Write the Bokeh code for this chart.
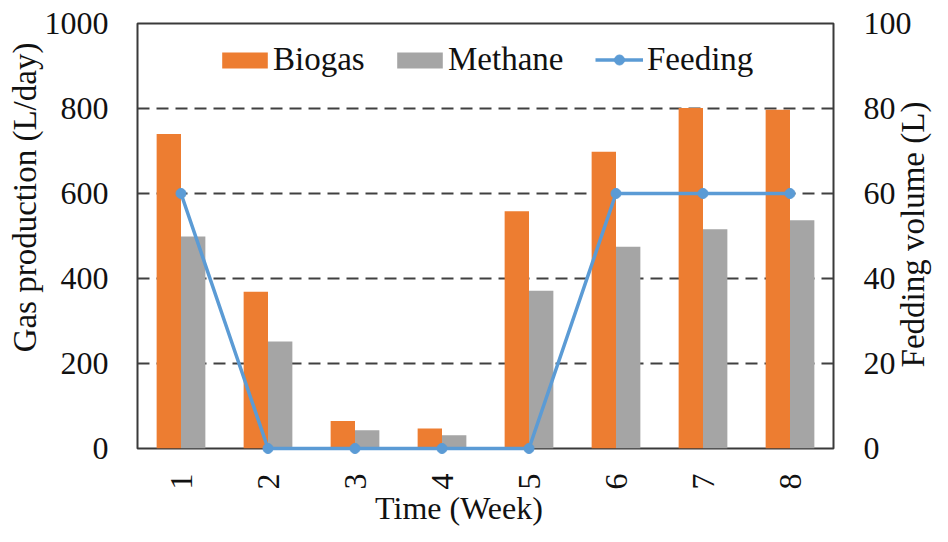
import math
from bokeh.plotting import figure
from bokeh.models import (FactorRange, Range1d, LinearAxis, FixedTicker, Legend,
                          LegendItem, ColumnDataSource)
from bokeh.core.properties import value
from bokeh.transform import dodge
from bokeh.embed import file_html
from bokeh.resources import INLINE

# ---- data ----
weeks = ["1", "2", "3", "4", "5", "6", "7", "8"]
biogas = [740, 369, 65, 47, 558, 698, 801, 797]
methane = [499, 252, 43, 31, 371, 475, 516, 537]
feeding = [60, 0, 0, 0, 0, 60, 60, 60]
left_ticks = [0, 200, 400, 600, 800, 1000]
right_ticks = [0, 20, 40, 60, 80, 100]
grid_values = [200, 400, 600, 800]
left_title = "Gas production (L/day)"
right_title = "Fedding volume (L)"
x_title = "Time (Week)"

FONT = "Liberation Serif"
TXT = "#111111"
C_BIO = "#ED7D31"
C_MET = "#A5A5A5"
C_FEED = "#5B9BD5"

src = ColumnDataSource(dict(week=weeks, biogas=biogas, methane=methane, feeding=feeding))

p = figure(width=932, height=526, x_range=FactorRange(factors=weeks), y_range=Range1d(0, 1000),
           output_backend="svg", toolbar_location=None,
           min_border_left=137, min_border_right=99, min_border_top=23, min_border_bottom=78)
p.background_fill_color = "white"
p.border_fill_color = "white"
p.outline_line_color = "#3a3a3a"
p.outline_line_width = 2

p.extra_y_ranges = {"feed": Range1d(0, 100)}
raxis = LinearAxis(y_range_name="feed")
p.add_layout(raxis, "right")

b1 = p.vbar(x=dodge("week", -0.14, range=p.x_range), top="biogas", width=0.28, source=src,
            fill_color=C_BIO, line_color=None)
b2 = p.vbar(x=dodge("week", 0.14, range=p.x_range), top="methane", width=0.28, source=src,
            fill_color=C_MET, line_color=None)
ln = p.line(x="week", y="feeding", y_range_name="feed", source=src, line_width=3.5,
            line_color=C_FEED, level="overlay")
sc = p.scatter(x="week", y="feeding", y_range_name="feed", source=src, size=10,
               fill_color=C_FEED, line_color=C_FEED, level="overlay")


def style_axis(ax):
    ax.axis_line_color = None
    ax.major_tick_line_color = None
    ax.minor_tick_line_color = None
    ax.major_tick_out = 0
    ax.major_tick_in = 0
    ax.minor_tick_out = 0
    ax.major_label_text_font = FONT
    ax.major_label_text_font_size = "32px"
    ax.major_label_text_color = TXT


xa = p.xaxis[0]
style_axis(xa)
xa.major_label_orientation = math.pi / 2
xa.major_label_standoff = 25

la = p.yaxis[0]
style_axis(la)
la.ticker = FixedTicker(ticks=left_ticks)
la.major_label_standoff = 29

style_axis(raxis)
raxis.ticker = FixedTicker(ticks=right_ticks)
raxis.major_label_standoff = 30

p.xgrid.visible = False
p.ygrid.ticker = FixedTicker(ticks=grid_values)
p.ygrid.grid_line_color = "#404040"
p.ygrid.grid_line_width = 2
p.ygrid.grid_line_dash = "12 7"


# axis titles, anchored at a category / zero and shifted in pixels
def title(text, anchor, dx, dy, angle, size):
    p.text(x=[anchor], y=[0], text=[text], x_offset=dx, y_offset=dy, angle=angle,
           text_align="center", text_baseline="middle", text_font=value(FONT),
           text_font_size=size, text_color=TXT, level="overlay")


title(left_title, weeks[0], -156, -251, math.pi / 2, "33px")
title(right_title, weeks[-1], 123, -214, math.pi / 2, "33px")
title(x_title, weeks[0], 278, 59, 0, "32px")


def make_legend(lab, rends, x, y, gw, gh, standoff):
    lg = Legend(items=[LegendItem(label=lab, renderers=rends)], location=(x, y),
                orientation="horizontal", glyph_width=gw, glyph_height=gh,
                label_standoff=standoff, padding=0, margin=0, spacing=0,
                border_line_color=None, background_fill_alpha=0,
                label_text_font=FONT, label_text_font_size="33px", label_text_color=TXT)
    p.add_layout(lg)


make_legend("Biogas", [b1], 79, 370, 57, 20, 0)
make_legend("Methane", [b2], 254, 370, 57, 20, 0)
make_legend("Feeding", [ln, sc], 458, 370, 48, 25, 4)

open("out.html", "w").write(file_html(p, INLINE))
